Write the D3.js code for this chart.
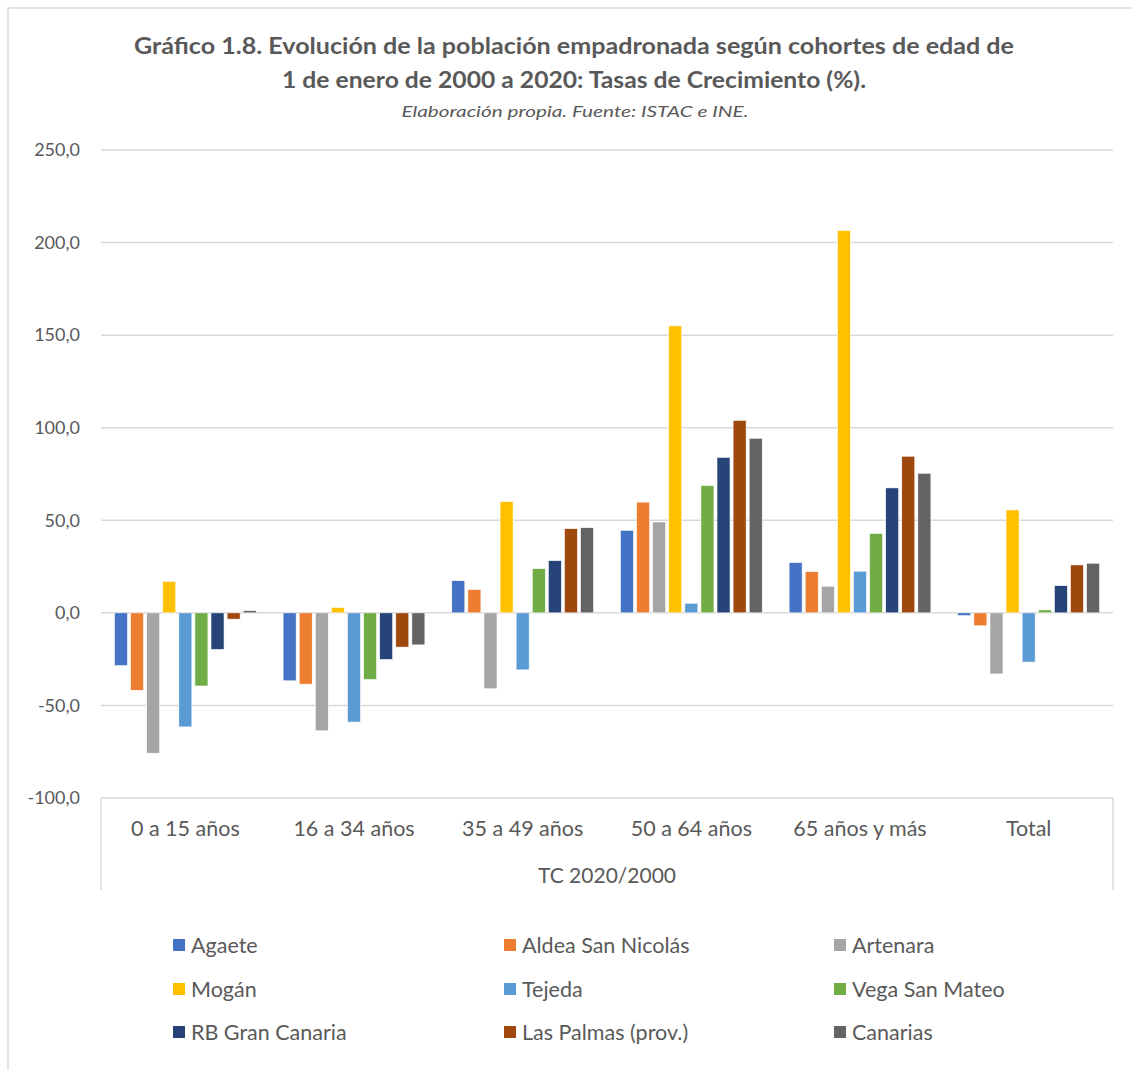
<!DOCTYPE html>
<html><head><meta charset="utf-8">
<script src="https://cdn.jsdelivr.net/npm/d3@7"></script>
<style>body{margin:0;background:#fff}svg{display:block}</style>
</head><body>
<svg id="c" width="1132" height="1075"></svg>
<script>
const categories = ["0 a 15 años","16 a 34 años","35 a 49 años","50 a 64 años","65 años y más","Total"];
const seriesNames = ["Agaete","Aldea San Nicolás","Artenara","Mogán","Tejeda","Vega San Mateo","RB Gran Canaria","Las Palmas (prov.)","Canarias"];
const seriesColors = ["#4472C4","#ED7D31","#A5A5A5","#FFC000","#5B9BD5","#70AD47","#264478","#9E480E","#636363"];
const agaete   = [-28.5,-36.7, 17.4, 44.6, 27.2, -1.5];
const aldea    = [-41.8,-38.5, 12.6, 59.8, 22.3, -7.0];
const artenara = [-75.8,-63.7,-41.0, 49.1, 14.4,-33.0];
const mogan    = [ 17.0,  2.9, 60.1,155.0,206.5, 55.6];
const tejeda   = [-61.6,-59.0,-30.8,  5.2, 22.5,-26.6];
const vega     = [-39.5,-36.0, 23.9, 68.8, 42.9,  1.6];
const rbgc     = [-19.8,-25.2, 28.2, 84.0, 67.5, 14.7];
const laspalmas= [ -3.4,-18.5, 45.5,104.0, 84.6, 25.9];
const canarias = [  1.2,-17.3, 46.0, 94.3, 75.4, 26.8];
const yTicks = [-100,-50,0,50,100,150,200,250];
const titleLines = ["Gráfico 1.8. Evolución de la población empadronada según cohortes de edad de","1 de enero de 2000 a 2020: Tasas de Crecimiento (%)."];
const subtitle = "Elaboración propia. Fuente: ISTAC e INE.";
const axisTitle = "TC 2020/2000";

const values = [agaete,aldea,artenara,mogan,tejeda,vega,rbgc,laspalmas,canarias];
const svg = d3.select("#c");
const font = "Lato, 'Open Sans', sans-serif";
const txt = "#595959";
const grid = "#d9d9d9";

// outer border
svg.append("path").attr("d","M8,1070 V8 H1132").attr("fill","none").attr("stroke",grid).attr("stroke-width",1.5);

const L=101, R=1113, T=150, B=798;
const y = d3.scaleLinear().domain([-100,250]).range([B,T]);
const x0 = d3.scaleBand().domain(categories).range([L,R]).padding(0);
const x1 = d3.scaleBand().domain(seriesNames).range([0,x0.bandwidth()]).paddingInner(0.19).paddingOuter(0.835);
const color = d3.scaleOrdinal().domain(seriesNames).range(seriesColors);
const loc = d3.formatLocale({decimal:",",thousands:".",grouping:[3],currency:["","€"],minus:"-"});
const fmt = loc.format(".1f");

// gridlines
svg.append("g").selectAll("line").data(yTicks).join("line")
  .attr("x1",L).attr("x2",R).attr("y1",d=>y(d)).attr("y2",d=>y(d))
  .attr("stroke",grid).attr("stroke-width",1.5);

// y axis labels
const yAxis = d3.axisLeft(y).tickValues(yTicks).tickFormat(fmt).tickSize(0).tickPadding(21);
const ga = svg.append("g").attr("transform",`translate(${L},0)`).call(yAxis);
ga.select(".domain").remove();
ga.selectAll("text").attr("font-family",font).attr("font-size",18).attr("fill",txt);

// bars
const rows = seriesNames.map((s,i)=>categories.map((c,j)=>({s,c,v:values[i][j]}))).flat();
svg.append("g").selectAll("rect").data(rows).join("rect")
  .attr("x",d=>x0(d.c)+x1(d.s)).attr("width",x1.bandwidth())
  .attr("y",d=>y(Math.max(0,d.v))).attr("height",d=>Math.abs(y(d.v)-y(0)))
  .attr("fill",d=>color(d.s)).attr("stroke","#fff").attr("stroke-width",0.6);

// category axis
const xAxis = d3.axisBottom(x0).tickSize(0).tickPadding(0);
const gx = svg.append("g").attr("transform",`translate(0,${B})`).call(xAxis);
gx.select(".domain").remove();
gx.selectAll("text").attr("dy",0).attr("y",38).attr("font-family",font).attr("font-size",21.5).attr("fill",txt);
svg.append("g").selectAll("line").data([L,R]).join("line")
  .attr("x1",d=>d).attr("x2",d=>d).attr("y1",B).attr("y2",890).attr("stroke",grid).attr("stroke-width",1.5);
svg.append("text").attr("x",(L+R)/2).attr("y",883).attr("text-anchor","middle")
  .attr("font-family",font).attr("font-size",21).attr("fill",txt).text(axisTitle);

// title
const tl = [{t:titleLines[0],y:54,w:880},{t:titleLines[1],y:88,w:584}];
svg.append("g").selectAll("text").data(tl).join("text")
  .attr("x",574).attr("y",d=>d.y).attr("text-anchor","middle")
  .attr("font-family",font).attr("font-weight","bold").attr("font-size",22).attr("fill",txt)
  .attr("textLength",d=>d.w).attr("lengthAdjust","spacingAndGlyphs").text(d=>d.t);
svg.append("text").attr("x",575).attr("y",117).attr("text-anchor","middle")
  .attr("font-family",font).attr("font-style","italic").attr("font-size",16).attr("fill",txt)
  .attr("textLength",347).attr("lengthAdjust","spacingAndGlyphs").text(subtitle);

// legend
const colX = [173,504,834], rowY = [945,989,1032];
const lg = svg.append("g").selectAll("g").data(seriesNames).join("g")
  .attr("transform",(d,i)=>`translate(${colX[i%3]},${rowY[Math.floor(i/3)]})`);
lg.append("rect").attr("x",0).attr("y",-6).attr("width",12).attr("height",12).attr("fill",d=>color(d));
lg.append("text").attr("x",18).attr("y",0).attr("dy","0.35em")
  .attr("font-family",font).attr("font-size",21.5).attr("fill",txt).text(d=>d);
</script>
</body></html>
